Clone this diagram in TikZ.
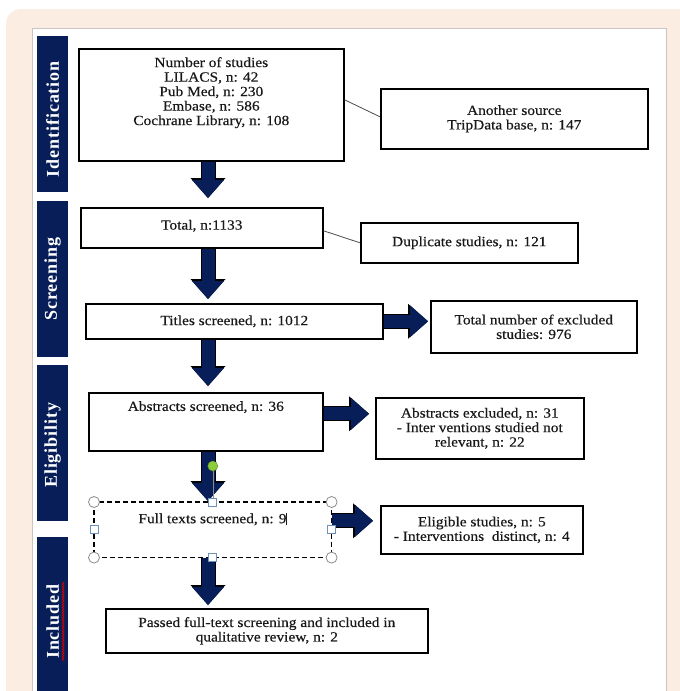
\documentclass[tikz,border=0pt]{standalone}
\usepackage{fontspec}
\setmainfont[FakeStretch=1.1,FakeBold=0.4]{Liberation Serif}
\newfontfamily\barfont[LetterSpace=5]{Liberation Serif}
\usetikzlibrary{arrows.meta,decorations.pathmorphing}
\definecolor{peach}{RGB}{252,237,226}
\definecolor{navy}{RGB}{8,30,88}
\definecolor{panelgray}{RGB}{204,196,192}
\definecolor{handlegray}{RGB}{140,140,140}
\definecolor{handleblue}{RGB}{110,145,185}
\definecolor{grip}{RGB}{140,205,60}

\begin{document}
\begin{tikzpicture}[x=1pt,y=-1pt,
  box/.style={draw=black,line width=1.6pt,fill=white,anchor=north west,inner sep=0pt},
  txt/.style={font=\fontsize{14}{14.5}\selectfont,text=black!90,align=center,inner sep=0pt},
  bar/.style={fill=navy,anchor=north west,inner sep=0pt,minimum width=31pt},
  bartxt/.style={rotate=90,text=white,font=\barfont\bfseries\fontsize{18}{18}\selectfont},
  flow/.style={navy,line width=13pt,shorten >=2pt,
    -{Triangle[length=18pt,width=32pt,line width=0pt]},
    preaction={draw=black,line width=15pt,-{Triangle[length=20pt,width=35pt,line width=0pt]}}},
  link/.style={draw=black!70,line width=0.8pt},
  corner/.style={circle,draw=handlegray,fill=white,line width=0.8pt,minimum size=11pt,inner sep=0pt},
  side/.style={draw=handleblue,fill=white,line width=0.8pt,minimum size=8pt,inner sep=0pt}]
  \clip (0,0) rectangle (680,691);
  \useasboundingbox (0,0) rectangle (680,691);
  % backdrop
  \fill[white] (0,0) rectangle (680,691);
  \fill[peach,rounded corners=15pt] (6,9) rectangle (700,720);
  \draw[panelgray,fill=white,line width=0.8pt] (32,28) rectangle (666,700);
  % phase bars
  \node[bar,minimum height=156pt] (idbar) at (37,36) {};
  \node[bar,minimum height=156pt] (scbar) at (37,201) {};
  \node[bar,minimum height=156pt] (elbar) at (37,365) {};
  \node[bar,minimum height=163pt] (inbar) at (37,537) {};
  \node[bartxt] (idtxt) at ([yshift=-5pt]idbar.center) {Identification};
  \node[bartxt] (sctxt) at (scbar.center) {Screening};
  \node[bartxt] (eltxt) at ([yshift=-2pt]elbar.center) {Eligibility};
  \node[bartxt] (intxt) at ([yshift=-3pt]inbar.center) {Included};
  \draw[red!85!black,line width=0.8pt,decorate,
    decoration={snake,amplitude=0.9pt,segment length=2.6pt}]
    ([xshift=0.5pt,yshift=-1pt]intxt.south east) -- ([xshift=0.5pt,yshift=1pt]intxt.south west);
  % boxes
  \coordinate (spine) at (208,0);
  \node[box,minimum width=265pt,minimum height=112pt] (sources) at (78,48) {};
  \node[txt,anchor=north] at ([yshift=-9pt]sources.north)
    {Number of studies\\LILACS, n: 42\\Pub Med, n: 230\\Embase, n: 586\\Cochrane Library, n: 108};
  \node[box,minimum width=267pt,minimum height=60pt] (other) at (380,88) {};
  \node[txt] at (other.center) {Another source\\TripData base, n: 147};
  \node[box,minimum width=242pt,minimum height=40pt] (total) at (80,207) {};
  \node[txt] at ([yshift=2pt]total.center) {Total, n:1133};
  \node[box,minimum width=217pt,minimum height=40pt] (dups) at (360,222) {};
  \node[txt] at (dups.center) {Duplicate studies, n: 121};
  \node[box,minimum width=297pt,minimum height=35pt] (titles) at (85,303) {};
  \node[txt] at (titles.center) {Titles screened, n: 1012};
  \node[box,minimum width=206pt,minimum height=52pt] (titlesout) at (430,300) {};
  \node[txt] at (titlesout.center) {Total number of excluded\\studies: 976};
  \node[box,minimum width=234pt,minimum height=58pt] (abstracts) at (88,392) {};
  \node[txt,anchor=north] at ([yshift=-9pt]abstracts.north) {Abstracts screened, n: 36};
  \node[box,minimum width=208pt,minimum height=61pt] (abstractsout) at (375,397) {};
  \node[txt] at (abstractsout.center)
    {Abstracts excluded, n: 31\\- Inter ventions studied not\\relevant, n: 22};
  \node[box,draw=none,minimum width=236pt,minimum height=54pt] (fulltext) at (94,502) {};
  \draw[black,line width=1.4pt,dash pattern=on 5pt off 3pt]
    (fulltext.north west) rectangle (fulltext.south east);
  \node[txt,anchor=north] at ([yshift=-11pt]fulltext.north)
    {Full texts screened, n: 9\rule[-2pt]{0.7pt}{12pt}};
  \node[box,minimum width=202pt,minimum height=48pt] (fulltextout) at (380,505) {};
  \node[txt] at (fulltextout.center) {Eligible studies, n: 5\\- Interventions\ \ distinct, n: 4};
  \node[box,minimum width=322pt,minimum height=44pt] (included) at (105,608) {};
  \node[txt] at (included.center)
    {Passed full-text screening and included in\\qualitative review, n: 2};
  % side links
  \draw[link] ([yshift=5pt]sources.east) -- ([yshift=2pt]other.west);
  \draw[link] ([yshift=-3pt]total.east) -- (dups.west);
  % block arrows
  \draw[flow,shorten >=9pt] (sources.south -| spine) -- (total.north -| spine);
  \draw[flow,shorten >=4pt] (total.south -| spine) -- (titles.north -| spine);
  \draw[flow,shorten >=6pt] (titles.south -| spine) -- (abstracts.north -| spine);
  \draw[flow,shorten >=1pt] (abstracts.south -| spine) -- (fulltext.north -| spine);
  \draw[flow,shorten >=3pt] (fulltext.south -| spine) -- (included.north -| spine);
  \draw[flow] (titles.east) -- (titles.east -| titlesout.west);
  \draw[flow,shorten >=6pt] ([yshift=8pt]abstracts.east) -- ([yshift=8pt]abstracts.east -| abstractsout.west);
  \draw[flow,shorten >=7pt] ([yshift=9pt]fulltext.east) -- ([yshift=9pt]fulltext.east -| fulltextout.west);
  % selection handles
  \coordinate (rotor) at ([yshift=36pt]fulltext.north);
  \draw[handlegray,line width=0.5pt] (rotor) -- (fulltext.north);
  \fill[grip,draw=grip!70!black,line width=0.5pt] (rotor) circle (5pt);
  \foreach \c in {north west,north east,south west,south east}
    \node[corner] at (fulltext.\c) {};
  \foreach \c in {north,south,west,east}
    \node[side] at (fulltext.\c) {};
\end{tikzpicture}
\end{document}
